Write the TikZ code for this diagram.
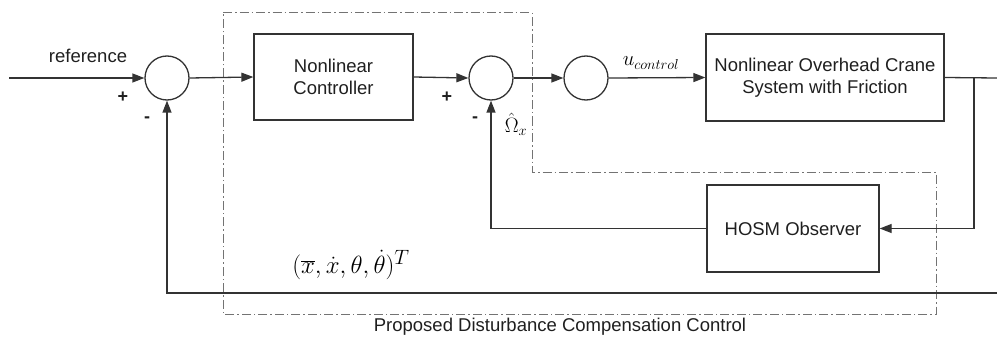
\documentclass[tikz,border=0pt]{standalone}
\usepackage{fontspec}
\setmainfont{Liberation Sans}
\usetikzlibrary{arrows.meta}
\begin{document}
\begin{tikzpicture}[x=1pt,y=-1pt,
  line/.style={draw=black!80,line width=1.3pt},
  arr/.style={line,-{Triangle[length=12pt,width=9pt]}},
  blk/.style={draw=black!80,line width=1.3pt,rectangle,align=center,inner sep=0pt,
     font=\fontsize{18.5}{21.5}\selectfont,text=black!88},
  sumc/.style={draw=black!80,line width=1.3pt,circle,minimum size=44pt,inner sep=0pt},
  lbl/.style={font=\fontsize{18.5}{21.5}\selectfont,text=black!88,inner sep=0pt},
  sgn/.style={font=\fontsize{18}{21.5}\selectfont\bfseries,text=black!88,inner sep=0pt},
  dd/.style={draw=black!55,line width=1pt,dash pattern=on 9pt off 3pt on 1.5pt off 3pt}]
\useasboundingbox (0,0) rectangle (997,337);
% dashed region
\draw[dd] (223,13) -- (532,13) -- (532,172) -- (936,172) -- (936,314) -- (223,314) -- cycle;
% blocks
\node[sumc] (s1) at (167,78) {};
\node[blk,minimum width=159pt,minimum height=86pt] (ctrl) at (333.5,77) {Nonlinear\\Controller};
\node[sumc] (s2) at (491,78) {};
\node[sumc] (s3) at (586,78) {};
\node[blk,minimum width=238pt,minimum height=87pt] (plant) at (825,77.5) {Nonlinear Overhead Crane\\System with Friction};
\node[blk,minimum width=172pt,minimum height=87pt] (hosm) at (793,228.5) {HOSM Observer};
\coordinate (in) at (9,78);
\coordinate (outR) at (997,78);
\coordinate (br) at (974,78);
\coordinate (fbR) at (997,293);
% connectors
\draw[arr] (in) -- (s1.west);
\draw[arr] (s1.east) -- (ctrl.west);
\draw[arr] (ctrl.east) -- (s2.west);
\draw[arr] (s2.east) -- (s3.west);
\draw[arr] (s3.east) -- (plant.west);
\draw[line] (plant.east) -- (outR);
\draw[arr] (br) |- (hosm.east);
\draw[arr] (hosm.west) -| (s2.south);
\draw[arr] (fbR) -| (s1.south);
% labels
\node[lbl] (tref) at (88,56) {reference};
\node[sgn] (p1) at (123,97) {+};
\node[sgn] (m1) at (147,120) {-};
\node[sgn] (p2) at (447,97) {+};
\node[sgn] (m2) at (475,120) {-};
\node[inner sep=0pt,font=\fontsize{20}{24}\selectfont] (om) at (516,124) {$\hat{\Omega}_x$};
\node[inner sep=0pt,font=\fontsize{22}{26}\selectfont] (uc) at (651,63) {$u_{control}$};
\node[inner sep=0pt,font=\fontsize{28}{32}\selectfont] (st) at (351,265) {$(\overline{x},\dot{x},\theta,\dot{\theta})^T$};
\node[lbl] (cap) at (560,327) {Proposed Disturbance Compensation Control};
\end{tikzpicture}
\end{document}
